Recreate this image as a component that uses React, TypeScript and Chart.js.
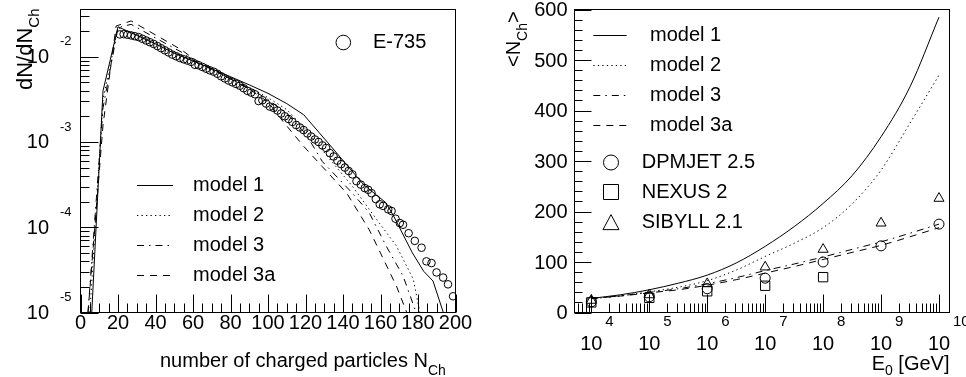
import React, { useEffect, useRef } from 'react';
import { Chart, registerables } from 'chart.js';

Chart.register(...registerables);

const FONT = '"Liberation Sans", Arial, Helvetica, sans-serif';
const PANEL_W = 483;
const PANEL_H = 377;

// ================= Left panel: multiplicity distribution =================
const leftXTicks = [0, 20, 40, 60, 80, 100, 120, 140, 160, 180, 200];
const leftYExponents = [-5, -4, -3, -2];

const e735N = [
  21, 23, 25, 27, 29, 31, 33, 35, 37, 39, 41, 43, 45, 47, 49, 51, 53, 55, 57, 59,
  61, 63, 65, 67, 69, 71, 73, 75, 77, 79, 81, 83, 85, 87, 89, 91, 93, 95, 97, 99,
  101, 103, 105, 107, 109, 111, 113, 115, 117, 119, 121, 123, 125, 127, 129, 131, 133, 135, 137, 139,
  141, 143, 145, 147.2, 149.5, 151.6, 153.4, 155.2, 157.5, 159.6, 161.4, 164.1, 165.9, 168, 170.3, 172,
  175, 178.3, 181.9, 184.5, 187.2, 189.9, 193.4, 196, 198.7,
];
const e735Val = [
  0.01828, 0.01841, 0.01811, 0.01778, 0.01738, 0.01698, 0.01622, 0.01549, 0.01479, 0.01413,
  0.01334, 0.01259, 0.01189, 0.01122, 0.01059, 0.01012, 0.00966, 0.00933, 0.00902, 0.00871,
  0.00804, 0.00794, 0.00759, 0.00724, 0.00692, 0.00668, 0.00631, 0.00589, 0.00556, 0.00525,
  0.00501, 0.00479, 0.00457, 0.00427, 0.00398, 0.0038, 0.00363, 0.00302, 0.00309, 0.00282,
  0.0026, 0.00251, 0.00234, 0.00216, 0.002, 0.00186, 0.00172, 0.00158, 0.00148, 0.00138,
  0.00126, 0.00116, 0.00107, 0.001, 0.000912, 0.000851, 0.000741, 0.000676, 0.000603, 0.00055,
  0.000501, 0.000457, 0.000417, 0.000347, 0.000316, 0.000288, 0.000275, 0.000251, 0.000214, 0.000186,
  0.000178, 0.000162, 0.000155, 0.000126, 0.000112, 0.000107,
  8.51e-5, 6.92e-5, 5.75e-5, 3.98e-5, 3.8e-5, 2.95e-5, 2.57e-5, 2.14e-5, 1.55e-5,
];

const lModel1N = [6, 12, 20, 30, 40, 50, 60, 70, 80, 90, 100, 110, 119, 132, 151, 163, 167, 177, 183, 188, 193.5];
const lModel1Val = [
  1e-5, 0.00398, 0.02244, 0.01778, 0.01413, 0.01096, 0.00891, 0.00724, 0.00583, 0.00468, 0.00372,
  0.00282, 0.00209, 0.000977, 0.000316, 0.000193, 0.000135, 5.01e-5, 3.05e-5, 2.34e-5, 1e-5,
];
const lModel2N = [5, 12, 20, 30, 40, 50, 60, 70, 80, 90, 100, 110, 120, 131, 145, 158, 168.5, 177.5, 181];
const lModel2Val = [
  1e-5, 0.00316, 0.0219, 0.0182, 0.01445, 0.01122, 0.00891, 0.00708, 0.00562, 0.00437, 0.00331,
  0.0024, 0.00141, 0.000708, 0.000302, 0.000123, 6.03e-5, 2.45e-5, 1e-5,
];
const lModel3N = [4, 12, 20, 27, 40, 55, 60, 70, 80, 90, 100, 110, 120, 129, 145, 154, 163, 172, 179];
const lModel3Val = [
  1e-5, 0.00251, 0.0219, 0.024, 0.0166, 0.01096, 0.00912, 0.00708, 0.0055, 0.00427, 0.00316,
  0.00214, 0.00126, 0.000589, 0.000251, 0.000148, 6.03e-5, 2.69e-5, 1e-5,
];
const lModel3aN = [4, 12, 19, 27, 42, 54, 60, 70, 80, 90, 100, 108, 119, 129, 142, 154, 168.5, 174];
const lModel3aVal = [
  1e-5, 0.00158, 0.0229, 0.0263, 0.017, 0.012, 0.00955, 0.00724, 0.0055, 0.00417, 0.00295,
  0.00174, 0.000891, 0.000513, 0.000251, 9.33e-5, 2.04e-5, 1e-5,
];

// ================= Right panel: mean multiplicity vs energy =================
const rightYTicks = [0, 100, 200, 300, 400, 500, 600];
const rightXExponents = [4, 5, 6, 7, 8, 9, 10];

const curveE = [1e4, 3.16e4, 1e5, 3.16e5, 1e6, 3.16e6, 1e7, 3.16e7, 1e8, 3.16e8, 1e9, 3.16e9, 1e10];
const rModel1 = [28, 35, 45, 58, 74, 98, 131, 170, 216, 271, 348, 447, 585];
const rModel2 = [27, 33, 41, 50, 63, 84, 111, 137, 168, 215, 282, 375, 470];
const rModel3 = [28, 33, 40, 47, 57, 69, 83, 96, 110, 125, 140, 157, 175];
const rModel3a = [28, 32.5, 39, 45, 54, 65, 78, 91, 105, 119, 133, 150, 168];

const pointE = [1e4, 1e5, 1e6, 1e7, 1e8, 1e9, 1e10];
const dpmjet = [21, 31, 47, 68, 100, 132, 175];
const nexusE = [1e4, 1e5, 1e6, 1e7, 1e8];
const nexus = [20, 29, 42, 53, 70];
const sibyll = [24, 35, 57, 90, 125, 177, 226];

// ================= styles =================
const DASH: Record<string, number[]> = {
  solid: [],
  dotted: [1.3, 3.2],
  dashdot: [7, 5, 1.5, 5],
  dashed: [7, 6],
};

function setFont(ctx: CanvasRenderingContext2D, size: number) {
  ctx.font = `${size}px ${FONT}`;
}

function drawMarker(ctx: CanvasRenderingContext2D, kind: string, x: number, y: number, r: number) {
  ctx.beginPath();
  if (kind === 'circle') {
    ctx.arc(x, y, r, 0, Math.PI * 2);
  } else if (kind === 'rect') {
    ctx.rect(x - r, y - r, 2 * r, 2 * r);
  } else {
    ctx.moveTo(x, y - r * 1.05);
    ctx.lineTo(x + r * 1.07, y + r * 0.95);
    ctx.lineTo(x - r * 1.07, y + r * 0.95);
    ctx.closePath();
  }
  ctx.stroke();
}

function legendLine(ctx: CanvasRenderingContext2D, x1: number, x2: number, y: number, dash: number[]) {
  ctx.setLineDash(dash);
  ctx.beginPath();
  ctx.moveTo(x1, y + 0.5);
  ctx.lineTo(x2, y + 0.5);
  ctx.stroke();
  ctx.setLineDash([]);
}

const leftDecor = {
  id: 'leftDecor',
  afterDraw(chart: any) {
    const { ctx, chartArea: a } = chart;
    const xs = chart.scales.x;
    const ys = chart.scales.y;
    ctx.save();
    ctx.strokeStyle = '#000';
    ctx.fillStyle = '#000';
    ctx.lineWidth = 1;
    ctx.setLineDash([]);
    ctx.strokeRect(a.left, a.top, a.right - a.left, a.bottom - a.top);
    ctx.beginPath();
    const x0 = leftXTicks[0];
    const x1 = leftXTicks[leftXTicks.length - 1];
    for (let v = x0; v <= x1; v += 5) {
      const px = Math.round(xs.getPixelForValue(v)) + 0.5;
      const len = leftXTicks.includes(v) ? 18 : 9;
      ctx.moveTo(px, a.bottom);
      ctx.lineTo(px, a.bottom - len);
    }
    for (let e = -6; e <= 0; e++) {
      for (let k = 1; k <= 9; k++) {
        const v = k * Math.pow(10, e);
        if (v < ys.min * 0.999 || v > ys.max) continue;
        const py = Math.round(ys.getPixelForValue(v)) + 0.5;
        const len = k === 1 ? 18 : 9;
        ctx.moveTo(a.left, py);
        ctx.lineTo(a.left + len, py);
      }
    }
    ctx.stroke();

    // tick labels
    setFont(ctx, 20);
    ctx.textAlign = 'center';
    ctx.textBaseline = 'middle';
    for (const t of leftXTicks) {
      ctx.fillText(String(t), xs.getPixelForValue(t), 323);
    }
    for (const e of leftYExponents) {
      const py = ys.getPixelForValue(Math.pow(10, e));
      setFont(ctx, 20);
      ctx.textAlign = 'right';
      ctx.fillText('10', a.left - 31.5, py + 1);
      setFont(ctx, 13);
      ctx.fillText(String(e), a.left - 9, py - 15);
    }

    // axis titles
    ctx.textBaseline = 'alphabetic';
    ctx.textAlign = 'left';
    setFont(ctx, 20);
    const tx = 'number of charged particles N';
    ctx.fillText(tx, 160, 367);
    const w1 = ctx.measureText(tx).width;
    setFont(ctx, 14);
    ctx.fillText('Ch', 160 + w1, 375);

    ctx.save();
    ctx.translate(32, 90);
    ctx.rotate(-Math.PI / 2);
    setFont(ctx, 22);
    ctx.fillText('dN/dN', 0, 0);
    const w2 = ctx.measureText('dN/dN').width;
    setFont(ctx, 15);
    ctx.fillText('Ch', w2, 7);
    ctx.restore();

    // legend
    const rows = [
      { y: 185, label: 'model 1', dash: DASH.solid },
      { y: 215, label: 'model 2', dash: DASH.dotted },
      { y: 245, label: 'model 3', dash: DASH.dashdot },
      { y: 275, label: 'model 3a', dash: DASH.dashed },
    ];
    setFont(ctx, 20);
    ctx.textBaseline = 'middle';
    ctx.textAlign = 'left';
    for (const r of rows) {
      legendLine(ctx, 137, 173, r.y, r.dash);
      ctx.fillText(r.label, 193, r.y);
    }
    drawMarker(ctx, 'circle', 343.3, 42.5, 7.3);
    ctx.fillText('E-735', 373, 42);
    ctx.restore();
  },
};

const rightDecor = {
  id: 'rightDecor',
  afterDraw(chart: any) {
    const { ctx, chartArea: a } = chart;
    const xs = chart.scales.x;
    const ys = chart.scales.y;
    ctx.save();
    ctx.strokeStyle = '#000';
    ctx.fillStyle = '#000';
    ctx.lineWidth = 1;
    ctx.setLineDash([]);
    ctx.strokeRect(a.left, a.top, a.right - a.left, a.bottom - a.top);
    ctx.beginPath();
    for (let e = 3; e <= 10; e++) {
      for (let k = 1; k <= 9; k++) {
        const v = k * Math.pow(10, e);
        if (v < xs.min || v > xs.max) continue;
        const px = Math.round(xs.getPixelForValue(v)) + 0.5;
        const len = k === 1 ? 18 : 9;
        ctx.moveTo(px, a.bottom);
        ctx.lineTo(px, a.bottom - len);
      }
    }
    const yTop = rightYTicks[rightYTicks.length - 1];
    for (let v = 0; v <= yTop; v += 20) {
      const py = Math.round(ys.getPixelForValue(v)) + 0.5;
      const len = rightYTicks.includes(v) ? 17 : 8;
      ctx.moveTo(a.left, py);
      ctx.lineTo(a.left + len, py);
    }
    ctx.stroke();

    // tick labels
    setFont(ctx, 20);
    ctx.textAlign = 'right';
    ctx.textBaseline = 'middle';
    for (const t of rightYTicks) {
      ctx.fillText(String(t), a.left - 7, ys.getPixelForValue(t) + 1);
    }
    for (const e of rightXExponents) {
      const px = xs.getPixelForValue(Math.pow(10, e));
      setFont(ctx, 20);
      ctx.textAlign = 'center';
      ctx.fillText('10', px, 344);
      setFont(ctx, 15);
      ctx.textAlign = 'left';
      ctx.fillText(String(e), px + 14, 322);
    }

    // axis titles
    ctx.textBaseline = 'alphabetic';
    setFont(ctx, 20);
    const wE = ctx.measureText('E').width;
    const wRest = ctx.measureText(' [GeV]').width;
    setFont(ctx, 14);
    const w0 = ctx.measureText('0').width;
    const xStart = a.right - (wE + w0 + wRest);
    setFont(ctx, 20);
    ctx.textAlign = 'left';
    ctx.fillText('E', xStart, 370);
    setFont(ctx, 14);
    ctx.fillText('0', xStart + wE, 375);
    setFont(ctx, 20);
    ctx.fillText(' [GeV]', xStart + wE + w0, 370);

    ctx.save();
    ctx.translate(36.5, 67);
    ctx.rotate(-Math.PI / 2);
    setFont(ctx, 20);
    ctx.fillText('<N', 0, 0);
    const wN = ctx.measureText('<N').width;
    setFont(ctx, 14);
    ctx.fillText('Ch', wN, 7);
    const wCh = ctx.measureText('Ch').width;
    setFont(ctx, 20);
    ctx.fillText('>', wN + wCh, 0);
    ctx.restore();

    // legend
    const rows = [
      { y: 35, label: 'model 1', dash: DASH.solid },
      { y: 65, label: 'model 2', dash: DASH.dotted },
      { y: 95, label: 'model 3', dash: DASH.dashdot },
      { y: 125, label: 'model 3a', dash: DASH.dashed },
    ];
    setFont(ctx, 20);
    ctx.textBaseline = 'middle';
    ctx.textAlign = 'left';
    for (const r of rows) {
      legendLine(ctx, 110.3, 143.7, r.y, r.dash);
      ctx.fillText(r.label, 167, r.y);
    }
    drawMarker(ctx, 'circle', 128, 162.5, 7.5);
    ctx.fillText('DPMJET 2.5', 158.7, 162.5);
    drawMarker(ctx, 'rect', 128, 192, 7.5);
    ctx.fillText('NEXUS 2', 158.7, 192);
    drawMarker(ctx, 'triangle', 128, 222.5, 7.5);
    ctx.fillText('SIBYLL 2.1', 158.7, 222.5);
    ctx.restore();
  },
};

function lineSet(label: string, xs: number[], ys: number[], dash: number[], smooth: boolean) {
  return {
    label,
    data: xs.map((x, i) => ({ x, y: ys[i] })),
    showLine: true,
    borderColor: '#000',
    backgroundColor: '#000',
    borderWidth: 1,
    borderDash: dash,
    borderCapStyle: 'butt',
    pointRadius: 0,
    pointHoverRadius: 0,
    fill: false,
    cubicInterpolationMode: smooth ? 'monotone' : 'default',
    tension: 0,
  };
}

function markerSet(label: string, xs: number[], ys: number[], style: string, r: number) {
  return {
    label,
    data: xs.map((x, i) => ({ x, y: ys[i] })),
    showLine: false,
    pointStyle: style,
    pointRadius: r,
    pointHoverRadius: r,
    pointBorderWidth: 1,
    borderWidth: 1,
    borderColor: '#000',
    pointBorderColor: '#000',
    backgroundColor: 'rgba(0,0,0,0)',
    pointBackgroundColor: 'rgba(0,0,0,0)',
  };
}

export default function App() {
  const leftRef = useRef<HTMLCanvasElement>(null);
  const rightRef = useRef<HTMLCanvasElement>(null);

  useEffect(() => {
    Chart.defaults.font.family = FONT;
    const common = {
      responsive: false,
      animation: false,
      devicePixelRatio: 1,
      events: [],
      plugins: { legend: { display: false }, tooltip: { enabled: false } },
    };

    const left = new Chart(leftRef.current as HTMLCanvasElement, {
      type: 'scatter',
      data: {
        datasets: [
          lineSet('model 1', lModel1N, lModel1Val, DASH.solid, false),
          lineSet('model 2', lModel2N, lModel2Val, DASH.dotted, false),
          lineSet('model 3', lModel3N, lModel3Val, DASH.dashdot, false),
          lineSet('model 3a', lModel3aN, lModel3aVal, DASH.dashed, false),
          markerSet('E-735', e735N, e735Val, 'circle', 3.8),
        ] as any,
      },
      options: {
        ...common,
        layout: { padding: { left: 80.5, right: 27.5, top: 9.5, bottom: 64.5 } },
        scales: {
          x: { type: 'linear', min: 0, max: 200, display: false },
          y: { type: 'logarithmic', min: 1e-5, max: 0.0358, display: false },
        },
      } as any,
      plugins: [leftDecor],
    });

    const right = new Chart(rightRef.current as HTMLCanvasElement, {
      type: 'scatter',
      data: {
        datasets: [
          lineSet('model 1', curveE, rModel1, DASH.solid, true),
          lineSet('model 2', curveE, rModel2, DASH.dotted, true),
          lineSet('model 3', curveE, rModel3, DASH.dashdot, true),
          lineSet('model 3a', curveE, rModel3a, DASH.dashed, true),
          markerSet('DPMJET 2.5', pointE, dpmjet, 'circle', 5),
          markerSet('NEXUS 2', nexusE, nexus, 'rect', 6.6),
          markerSet('SIBYLL 2.1', pointE, sibyll, 'triangle', 5.8),
        ] as any,
      },
      options: {
        ...common,
        layout: { padding: { left: 91.5, right: 16.5, top: 9.5, bottom: 64.5 } },
        scales: {
          x: { type: 'logarithmic', min: 5129, max: 1.517e10, display: false },
          y: { type: 'linear', min: 0, max: 600, display: false },
        },
      } as any,
      plugins: [rightDecor],
    });

    return () => {
      left.destroy();
      right.destroy();
    };
  }, []);

  return (
    <div style={{ position: 'absolute', left: 0, top: 0, width: PANEL_W * 2, height: PANEL_H, background: '#fff' }}>
      <canvas ref={leftRef} width={PANEL_W} height={PANEL_H} style={{ position: 'absolute', left: 0, top: 0 }} />
      <canvas ref={rightRef} width={PANEL_W} height={PANEL_H} style={{ position: 'absolute', left: PANEL_W, top: 0 }} />
    </div>
  );
}
